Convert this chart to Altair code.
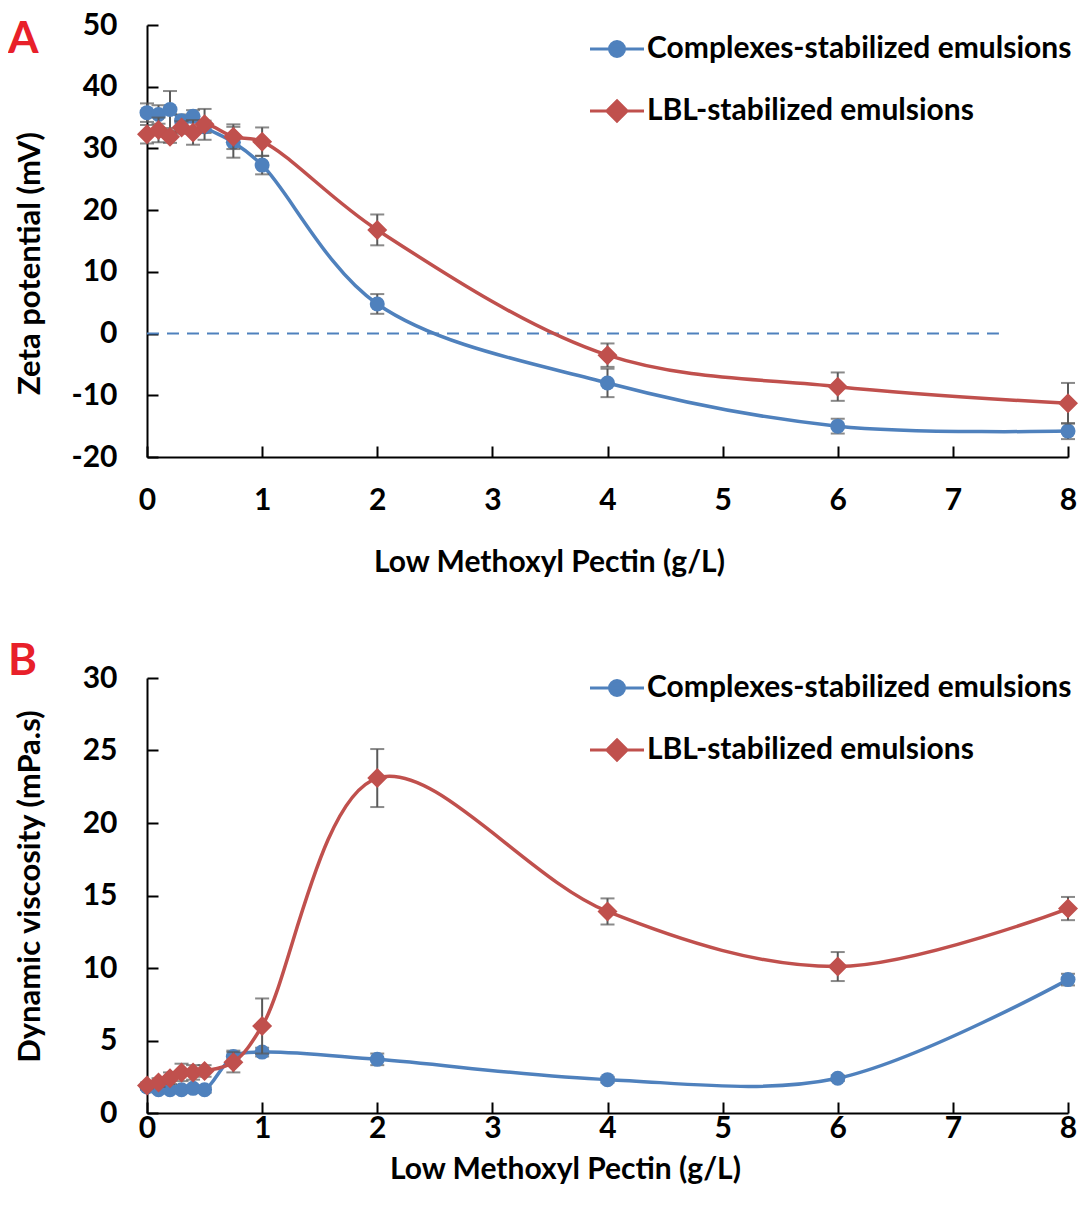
import altair as alt
import pandas as pd

FONT = "Lato"

x_vals = [0, 0.1, 0.2, 0.3, 0.4, 0.5, 0.75, 1, 2, 4, 6, 8]
series_names = ["Complexes-stabilized emulsions", "LBL-stabilized emulsions"]
colors = ["#4F81BD", "#C0504D"]
marker_shapes = ["circle", "diamond"]
panel_labels = ["A", "B"]

# Panel A: zeta potential (mV)
zeta_complex = [35.8, 35.5, 36.3, 34.5, 35.2, 33.5, 31.0, 27.3, 4.8, -8.0, -15.0, -15.8]
zeta_complex_err = [1.5, 1.5, 3.0, 1.0, 1.0, 1.0, 2.5, 1.5, 1.6, 2.3, 1.2, 1.3]
zeta_lbl = [32.3, 33.0, 31.9, 33.4, 32.6, 33.9, 31.9, 31.1, 16.8, -3.5, -8.6, -11.3]
zeta_lbl_err = [1.5, 2.0, 1.0, 1.0, 2.0, 2.5, 2.0, 2.3, 2.5, 1.9, 2.3, 3.3]
zero_x = [0, 7.4]
zero_y = [0, 0]

# Panel B: dynamic viscosity (mPa.s)
visc_complex = [1.8, 1.6, 1.6, 1.6, 1.7, 1.6, 3.9, 4.2, 3.7, 2.3, 2.4, 9.2]
visc_complex_err = [0.2, 0.2, 0.2, 0.2, 0.2, 0.2, 0.4, 0.3, 0.4, 0.2, 0.2, 0.4]
visc_lbl = [1.9, 2.1, 2.4, 2.8, 2.8, 2.9, 3.5, 6.0, 23.1, 13.9, 10.1, 14.1]
visc_lbl_err = [0.2, 0.3, 0.4, 0.6, 0.5, 0.4, 0.7, 1.9, 2.0, 0.9, 1.0, 0.8]

# legend symbols: a line with the marker on it
legend_paths = [
    "M-3.6,0L3.6,0M-1,0A1,1 0 1,1 1,0A1,1 0 1,1 -1,0Z",
    "M-3.6,0L3.6,0M0,-1.35L1.35,0L0,1.35L-1.35,0Z",
]

W = 921


def make_df(a, ea, b, eb):
    rows = []
    for name, vals, errs in ((series_names[0], a, ea), (series_names[1], b, eb)):
        for xv, v, e in zip(x_vals, vals, errs):
            rows.append({"x": xv, "y": v, "lo": v - e, "hi": v + e, "series": name})
    return pd.DataFrame(rows)


def panel(df, ydomain, ystep, H, ytitle, label, label_y, legend_y,
          x_label_pad, x_title_pad, x_title_x, y_title_pad, y_title_y, extra=None):
    xs = alt.Scale(domain=[0, 8], nice=False, zero=False)
    ys = alt.Scale(domain=ydomain, nice=False, zero=False)
    yticks = list(range(ydomain[0], ydomain[1] + 1, ystep))
    label_expr = "'' + datum.value"

    x_main = alt.X("x:Q", scale=xs, title="Low Methoxyl Pectin (g/L)",
                   axis=alt.Axis(values=list(range(0, 9)), ticks=False, tickSize=0, grid=False,
                                 domainColor="black", domainWidth=2, labelFont=FONT,
                                 labelFontSize=30, labelFontWeight="bold", labelColor="black",
                                 labelPadding=x_label_pad, titleFont=FONT, titleFontSize=30,
                                 titleFontWeight="bold", titleColor="black",
                                 titlePadding=x_title_pad, titleX=x_title_x, labelFlush=False))
    y_main = alt.Y("y:Q", scale=ys, title=ytitle,
                   axis=alt.Axis(values=yticks, ticks=False, tickSize=0, grid=False,
                                 domainColor="black", domainWidth=2, labelFont=FONT,
                                 labelFontSize=30, labelFontWeight="bold", labelColor="black",
                                 labelPadding=30, labelExpr=label_expr, titleFont=FONT,
                                 titleFontSize=31, titleFontWeight="bold", titleColor="black",
                                 titlePadding=y_title_pad, titleY=y_title_y, labelFlush=False))
    x_tick = alt.X("x:Q", scale=xs, title=None,
                   axis=alt.Axis(orient="top", offset=-H, values=list(range(0, 9)), labels=False,
                                 domain=False, grid=False, ticks=True, tickSize=11,
                                 tickWidth=2, tickColor="black"))
    y_tick = alt.Y("y:Q", scale=ys, title=None,
                   axis=alt.Axis(orient="right", offset=-W, values=yticks, labels=False,
                                 domain=False, grid=False, ticks=True, tickSize=11,
                                 tickWidth=2, tickColor="black"))
    x_none = alt.X("x:Q", scale=xs, axis=None)
    y_none = alt.Y("y:Q", scale=ys, axis=None)

    leg = alt.Legend(
        title=None, orient="none", legendX=455, legendY=legend_y, padding=0,
        labelFont=FONT, labelFontSize=30, labelFontWeight="bold", labelColor="black",
        symbolSize=225, symbolStrokeWidth=3, symbolOpacity=1, rowPadding=30,
        labelOffset=15, labelLimit=700,
    )
    color = alt.Color("series:N", scale=alt.Scale(domain=series_names, range=colors), legend=leg)
    stroke = alt.Stroke("series:N", scale=alt.Scale(domain=series_names, range=colors), legend=leg)
    shape = alt.Shape("series:N", scale=alt.Scale(domain=series_names, range=legend_paths),
                      legend=leg)

    layers = []
    if extra is not None:
        layers.append(extra)
    # invisible layer that only carries the legend (placed mid-plot)
    leg_layer = alt.Chart(df[df["x"] == 4]).mark_point(filled=True, opacity=0, size=225).encode(
        x=x_none, y=y_none, color=color, stroke=stroke, shape=shape, strokeWidth=alt.value(0))
    layers.append(leg_layer)

    for i, name in enumerate(series_names):
        sdf = df[df["series"] == name]
        base = alt.Chart(sdf)
        line = base.mark_line(interpolate="catmull-rom", color=colors[i], strokeWidth=3.5).encode(
            x=x_tick if i == 0 else x_none, y=y_tick if i == 0 else y_none)
        rule = base.mark_rule(color="#595959", strokeWidth=2).encode(
            x=x_none, y=alt.Y("lo:Q", scale=ys, axis=None), y2="hi:Q")
        cap_lo = base.mark_tick(color="#595959", orient="horizontal", size=14, thickness=2).encode(
            x=x_none, y=alt.Y("lo:Q", scale=ys, axis=None))
        cap_hi = base.mark_tick(color="#595959", orient="horizontal", size=14, thickness=2).encode(
            x=x_none, y=alt.Y("hi:Q", scale=ys, axis=None))
        pts = base.mark_point(filled=True, shape=marker_shapes[i], size=225 if i == 0 else 400,
                              color=colors[i], opacity=1, strokeWidth=0).encode(
            x=x_main if i == 0 else x_none, y=y_main if i == 0 else y_none)
        layers += [line, rule, cap_lo, cap_hi, pts]

    letter = alt.Chart(pd.DataFrame({"t": [label]})).mark_text(
        font=FONT, fontSize=44, fontWeight="bold", color="#E8202A", align="left",
        baseline="alphabetic").encode(text="t:N", x=alt.value(-139), y=alt.value(label_y))
    layers.append(letter)

    return alt.layer(*layers).resolve_axis(x="independent", y="independent").properties(
        width=W, height=H)


dfA = make_df(zeta_complex, zeta_complex_err, zeta_lbl, zeta_lbl_err)
dfB = make_df(visc_complex, visc_complex_err, visc_lbl, visc_lbl_err)

zero_line = alt.Chart(pd.DataFrame({"x": zero_x, "y": zero_y})).mark_line(
    color=colors[0], strokeWidth=2, strokeDash=[12, 8]).encode(
    x=alt.X("x:Q", scale=alt.Scale(domain=[0, 8], nice=False), axis=None),
    y=alt.Y("y:Q", scale=alt.Scale(domain=[-20, 50], nice=False), axis=None))

pA = panel(dfA, [-20, 50], 10, 432, "Zeta potential (mV)", panel_labels[0], 28, 9,
           28, 32, 402, 25, 238, extra=zero_line)
pB = panel(dfB, [0, 30], 5, 435, "Dynamic viscosity (mPa.s)", panel_labels[1], -3, -5,
           0, 11, 418, 36, 208)

chart = alt.vconcat(pA, pB, spacing=63).resolve_scale(
    color="independent", stroke="independent", shape="independent").resolve_legend(
    color="independent", stroke="independent", shape="independent").properties(
    padding={"left": 0, "top": 2, "right": 0, "bottom": 0}).configure_view(stroke=None)

chart.save("out.html", embed_options={"renderer": "svg", "actions": False})
